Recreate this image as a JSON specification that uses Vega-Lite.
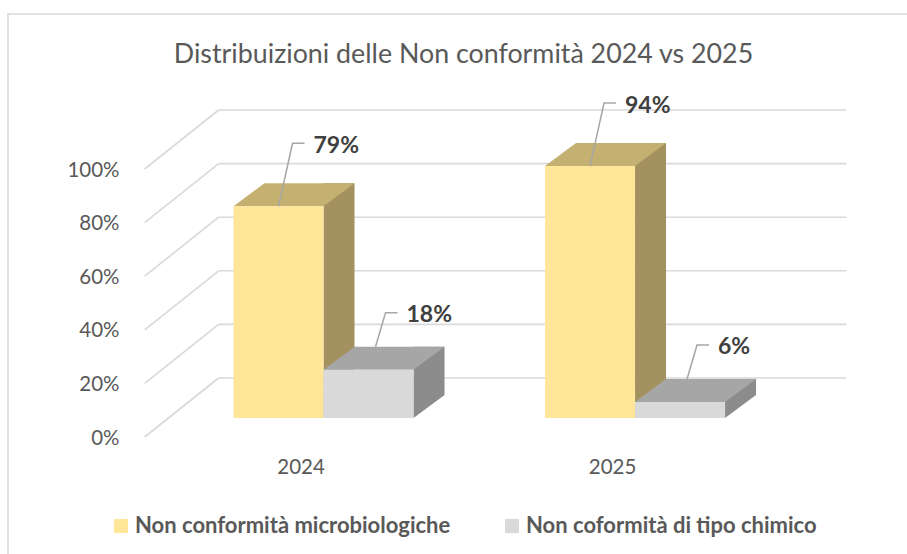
{
  "$schema": "https://vega.github.io/schema/vega-lite/v6.json",
  "width": 903,
  "height": 544,
  "autosize": {"type": "none"},
  "padding": {"left": 8, "top": 14, "right": -4, "bottom": -4},
  "background": "white",
  "config": {
    "view": {"stroke": "#D9D9D9", "strokeWidth": 1.5},
    "font": "Lato"
  },
  "title": {
    "text": "Distribuizioni delle Non conformità 2024 vs 2025",
    "anchor": "middle",
    "orient": "top",
    "offset": -68,
    "baseline": "middle",
    "dx": 4,
    "font": "Lato",
    "fontSize": 26.8,
    "fontWeight": "normal",
    "color": "#595959"
  },
  "datasets": {
    "bars": [
      {"year": 2024, "series": "Non conformità microbiologiche", "value": 0.79},
      {"year": 2025, "series": "Non conformità microbiologiche", "value": 0.94},
      {"year": 2024, "series": "Non coformità di tipo chimico", "value": 0.18},
      {"year": 2025, "series": "Non coformità di tipo chimico", "value": 0.06}
    ],
    "ticks": [{"v": 0}, {"v": 0.2}, {"v": 0.4}, {"v": 0.6}, {"v": 0.8}, {"v": 1}]
  },
  "layer": [
    {
      "data": {"name": "ticks"},
      "mark": {"type": "rule", "color": "#D9D9D9", "strokeWidth": 1.6, "xOffset": 54, "x2Offset": 54, "yOffset": -40, "y2Offset": -40},
      "encoding": {
        "x": {"datum": 2023.49, "type": "quantitative", "scale": {"domain": [2023.00317, 2025.86984], "nice": false, "zero": false}},
        "x2": {"datum": 2025.505},
        "y": {"field": "v", "type": "quantitative", "scale": {"domain": [-0.522388, 1.507463], "nice": false, "zero": false},
              "axis": {"title": null, "values": [0, 0.2, 0.4, 0.6, 0.8, 1], "format": ".0%", "grid": false, "domain": false, "ticks": false, "tickSize": 0,
                       "offset": -133, "labelPadding": 22, "labelOffset": 20, "labelFontSize": 20.5, "labelColor": "#595959", "labelFont": "Lato"}},
        "y2": {"field": "v"}
      }
    },
    {
      "data": {"name": "ticks"},
      "mark": {"type": "rule", "color": "#D9D9D9", "strokeWidth": 1.6, "xOffset": -20, "x2Offset": 54, "yOffset": 19, "y2Offset": -40},
      "encoding": {
        "x": {"datum": 2023.49, "type": "quantitative", "scale": {"domain": [2023.00317, 2025.86984], "nice": false, "zero": false}},
        "x2": {"datum": 2023.49},
        "y": {"field": "v", "type": "quantitative", "scale": {"domain": [-0.522388, 1.507463], "nice": false, "zero": false}},
        "y2": {"field": "v"}
      }
    },
    {
      "data": {"name": "bars"},
      "transform": [{"filter": "datum.series === 'Non conformità microbiologiche'"}],
      "mark": {"type": "rule", "color": "#A39260", "strokeWidth": 31, "strokeCap": "butt", "xOffset": 15.5, "yOffset": -23, "y2Offset": -23},
      "encoding": {
        "x": {"field": "year", "type": "quantitative", "scale": {"domain": [2023.00317, 2025.86984], "nice": false, "zero": false}},
        "y": {"field": "value", "type": "quantitative", "scale": {"domain": [-0.522388, 1.507463], "nice": false, "zero": false}},
        "y2": {"datum": 0}
      }
    },
    {
      "data": {"name": "bars"},
      "transform": [{"filter": "datum.series === 'Non conformità microbiologiche'"}],
      "mark": {"type": "point", "shape": "M0,-23L0,0L31,-23Z", "size": 4, "filled": true, "opacity": 1, "strokeWidth": 0, "color": "#A39260", "xOffset": 0},
      "encoding": {
        "x": {"field": "year", "type": "quantitative", "scale": {"domain": [2023.00317, 2025.86984], "nice": false, "zero": false}},
        "y": {"datum": 0, "type": "quantitative", "scale": {"domain": [-0.522388, 1.507463], "nice": false, "zero": false}}
      }
    },
    {
      "data": {"name": "bars"},
      "transform": [{"filter": "datum.series === 'Non conformità microbiologiche'"}],
      "mark": {"type": "point", "shape": "M0,0L90,0L121,-23L31,-23Z", "size": 4, "filled": true, "opacity": 1, "strokeWidth": 0, "color": "#C4B070", "xOffset": -90},
      "encoding": {
        "x": {"field": "year", "type": "quantitative", "scale": {"domain": [2023.00317, 2025.86984], "nice": false, "zero": false}},
        "y": {"field": "value", "type": "quantitative", "scale": {"domain": [-0.522388, 1.507463], "nice": false, "zero": false}}
      }
    },
    {
      "data": {"name": "bars"},
      "transform": [{"filter": "datum.series === 'Non conformità microbiologiche'"}],
      "mark": {"type": "bar", "width": 90, "xOffset": -45, "opacity": 1},
      "encoding": {
        "x": {"field": "year", "type": "quantitative", "scale": {"domain": [2023.00317, 2025.86984], "nice": false, "zero": false},
              "axis": {"title": null, "values": [2024, 2025], "format": "d", "grid": false, "domain": false, "ticks": false, "tickSize": 0,
                       "offset": -140, "labelPadding": 49, "labelBaseline": "middle", "labelOffset": -23, "labelFlush": false,
                       "labelFontSize": 20.5, "labelColor": "#595959", "labelFont": "Lato"}},
        "y": {"field": "value", "type": "quantitative", "stack": null, "scale": {"domain": [-0.522388, 1.507463], "nice": false, "zero": false}},
        "y2": {"datum": 0},
        "color": {"field": "series", "type": "nominal",
                  "scale": {"domain": ["Non conformità microbiologiche", "Non coformità di tipo chimico"], "range": ["#FFE699", "#D9D9D9"]},
                  "legend": {"title": null, "orient": "none", "legendX": 102, "legendY": 501, "direction": "horizontal",
                             "symbolType": "square", "symbolSize": 196, "symbolStrokeWidth": 0, "symbolOpacity": 1,
                             "labelFontSize": 22, "labelFontWeight": "bold", "labelColor": "#595959", "labelFont": "Lato",
                             "columnPadding": 50, "labelOffset": 3, "labelLimit": 0, "padding": 0}}
      }
    },
    {
      "data": {"name": "bars"},
      "transform": [{"filter": "datum.series === 'Non conformità microbiologiche'"}],
      "mark": {"type": "point", "shape": "M0,0L14,-63L26,-63", "size": 4, "filled": false, "opacity": 1, "strokeWidth": 1.5, "color": "#A6A6A6", "xOffset": -45},
      "encoding": {
        "x": {"field": "year", "type": "quantitative", "scale": {"domain": [2023.00317, 2025.86984], "nice": false, "zero": false}},
        "y": {"field": "value", "type": "quantitative", "scale": {"domain": [-0.522388, 1.507463], "nice": false, "zero": false}}
      }
    },
    {
      "data": {"name": "bars"},
      "transform": [{"filter": "datum.series === 'Non conformità microbiologiche'"}],
      "mark": {"type": "text", "align": "left", "baseline": "middle", "xOffset": -10, "yOffset": -60, "font": "Lato", "fontSize": 23, "fontWeight": "bold", "color": "#404040"},
      "encoding": {
        "x": {"field": "year", "type": "quantitative", "scale": {"domain": [2023.00317, 2025.86984], "nice": false, "zero": false}},
        "y": {"field": "value", "type": "quantitative", "scale": {"domain": [-0.522388, 1.507463], "nice": false, "zero": false}},
        "text": {"field": "value", "type": "quantitative", "format": ".0%"}
      }
    },
    {
      "data": {"name": "bars"},
      "transform": [{"filter": "datum.series === 'Non coformità di tipo chimico'"}],
      "mark": {"type": "rule", "color": "#8C8C8C", "strokeWidth": 31, "strokeCap": "butt", "xOffset": 105.5, "yOffset": -23, "y2Offset": -23},
      "encoding": {
        "x": {"field": "year", "type": "quantitative", "scale": {"domain": [2023.00317, 2025.86984], "nice": false, "zero": false}},
        "y": {"field": "value", "type": "quantitative", "scale": {"domain": [-0.522388, 1.507463], "nice": false, "zero": false}},
        "y2": {"datum": 0}
      }
    },
    {
      "data": {"name": "bars"},
      "transform": [{"filter": "datum.series === 'Non coformità di tipo chimico'"}],
      "mark": {"type": "point", "shape": "M0,-23L0,0L31,-23Z", "size": 4, "filled": true, "opacity": 1, "strokeWidth": 0, "color": "#8C8C8C", "xOffset": 90},
      "encoding": {
        "x": {"field": "year", "type": "quantitative", "scale": {"domain": [2023.00317, 2025.86984], "nice": false, "zero": false}},
        "y": {"datum": 0, "type": "quantitative", "scale": {"domain": [-0.522388, 1.507463], "nice": false, "zero": false}}
      }
    },
    {
      "data": {"name": "bars"},
      "transform": [{"filter": "datum.series === 'Non coformità di tipo chimico'"}],
      "mark": {"type": "point", "shape": "M0,0L90,0L121,-23L31,-23Z", "size": 4, "filled": true, "opacity": 1, "strokeWidth": 0, "color": "#A6A6A6", "xOffset": 0},
      "encoding": {
        "x": {"field": "year", "type": "quantitative", "scale": {"domain": [2023.00317, 2025.86984], "nice": false, "zero": false}},
        "y": {"field": "value", "type": "quantitative", "scale": {"domain": [-0.522388, 1.507463], "nice": false, "zero": false}}
      }
    },
    {
      "data": {"name": "bars"},
      "transform": [{"filter": "datum.series === 'Non coformità di tipo chimico'"}],
      "mark": {"type": "bar", "width": 90, "xOffset": 45, "opacity": 1},
      "encoding": {
        "x": {"field": "year", "type": "quantitative", "scale": {"domain": [2023.00317, 2025.86984], "nice": false, "zero": false}},
        "y": {"field": "value", "type": "quantitative", "stack": null, "scale": {"domain": [-0.522388, 1.507463], "nice": false, "zero": false}},
        "y2": {"datum": 0},
        "color": {"field": "series", "type": "nominal",
                  "scale": {"domain": ["Non conformità microbiologiche", "Non coformità di tipo chimico"], "range": ["#FFE699", "#D9D9D9"]}}
      }
    },
    {
      "data": {"name": "bars"},
      "transform": [{"filter": "datum.series === 'Non coformità di tipo chimico'"}],
      "mark": {"type": "point", "shape": "M7,-23L17,-57L29,-57", "size": 4, "filled": false, "opacity": 1, "strokeWidth": 1.5, "color": "#A6A6A6", "xOffset": 45},
      "encoding": {
        "x": {"field": "year", "type": "quantitative", "scale": {"domain": [2023.00317, 2025.86984], "nice": false, "zero": false}},
        "y": {"field": "value", "type": "quantitative", "scale": {"domain": [-0.522388, 1.507463], "nice": false, "zero": false}}
      }
    },
    {
      "data": {"name": "bars"},
      "transform": [{"filter": "datum.series === 'Non coformità di tipo chimico'"}],
      "mark": {"type": "text", "align": "left", "baseline": "middle", "xOffset": 83, "yOffset": -55, "font": "Lato", "fontSize": 23, "fontWeight": "bold", "color": "#404040"},
      "encoding": {
        "x": {"field": "year", "type": "quantitative", "scale": {"domain": [2023.00317, 2025.86984], "nice": false, "zero": false}},
        "y": {"field": "value", "type": "quantitative", "scale": {"domain": [-0.522388, 1.507463], "nice": false, "zero": false}},
        "text": {"field": "value", "type": "quantitative", "format": ".0%"}
      }
    }
  ]
}
